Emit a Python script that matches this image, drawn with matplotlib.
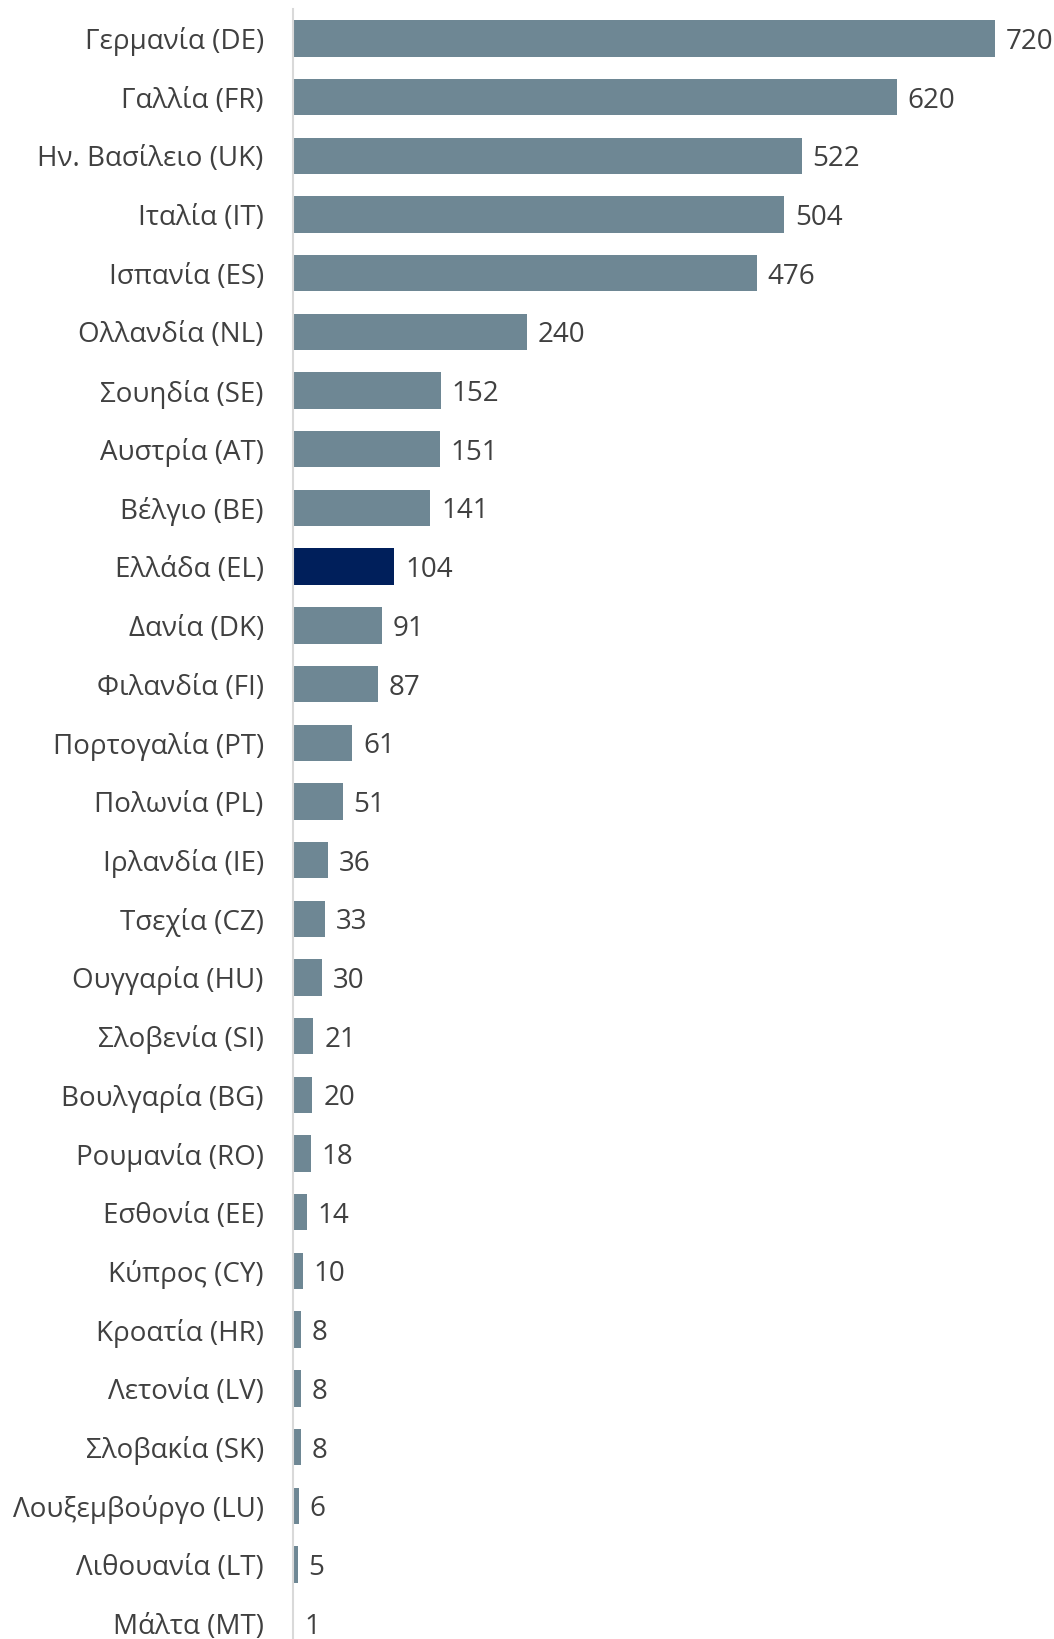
import matplotlib.pyplot as plt

plt.rcParams['font.family'] = ['Open Sans', 'DejaVu Sans']

# Countries (top to bottom) and values
countries = [
    'Γερμανία (DE)', 'Γαλλία (FR)', 'Ην. Βασίλειο (UK)', 'Ιταλία (IT)',
    'Ισπανία (ES)', 'Ολλανδία (NL)', 'Σουηδία (SE)', 'Αυστρία (AT)',
    'Βέλγιο (BE)', 'Ελλάδα (EL)', 'Δανία (DK)', 'Φιλανδία (FI)',
    'Πορτογαλία (PT)', 'Πολωνία (PL)', 'Ιρλανδία (IE)', 'Τσεχία (CZ)',
    'Ουγγαρία (HU)', 'Σλοβενία (SI)', 'Βουλγαρία (BG)', 'Ρουμανία (RO)',
    'Εσθονία (EE)', 'Κύπρος (CY)', 'Κροατία (HR)', 'Λετονία (LV)',
    'Σλοβακία (SK)', 'Λουξεμβούργο (LU)', 'Λιθουανία (LT)', 'Μάλτα (MT)',
]
values = [720, 620, 522, 504, 476, 240, 152, 151, 141, 104, 91, 87, 61, 51,
          36, 33, 30, 21, 20, 18, 14, 10, 8, 8, 8, 6, 5, 1]
highlight = 'Ελλάδα (EL)'

BAR_COLOR = '#6E8794'
HL_COLOR = '#001F5B'
TEXT_COLOR = '#404040'


def main():
    fig = plt.figure(figsize=(10.54, 16.39), dpi=100)
    ax = fig.add_axes([293 / 1054, 0, 1 - 293 / 1054, (1639 - 9) / 1639])

    colors = [HL_COLOR if c == highlight else BAR_COLOR for c in countries]
    ypos = list(range(len(countries)))
    ax.barh(ypos, values, height=0.62, color=colors)

    for y, v in zip(ypos, values):
        ax.text(v + 11, y, str(v), va='center_baseline', ha='left',
                fontsize=20, color=TEXT_COLOR)

    ax.set_yticks(ypos)
    ax.set_yticklabels(countries, fontsize=20, color=TEXT_COLOR,
                       va='center_baseline')
    ax.tick_params(axis='y', length=0, pad=21)
    ax.set_xticks([])
    ax.set_xlim(0, 781)
    ax.set_ylim(27.27, -0.5)

    for side in ['top', 'right', 'bottom']:
        ax.spines[side].set_visible(False)
    ax.spines['left'].set_color('#D9D9D9')
    ax.spines['left'].set_linewidth(1.5)

    fig.savefig('out.png', dpi=100)


if __name__ == '__main__':
    main()
